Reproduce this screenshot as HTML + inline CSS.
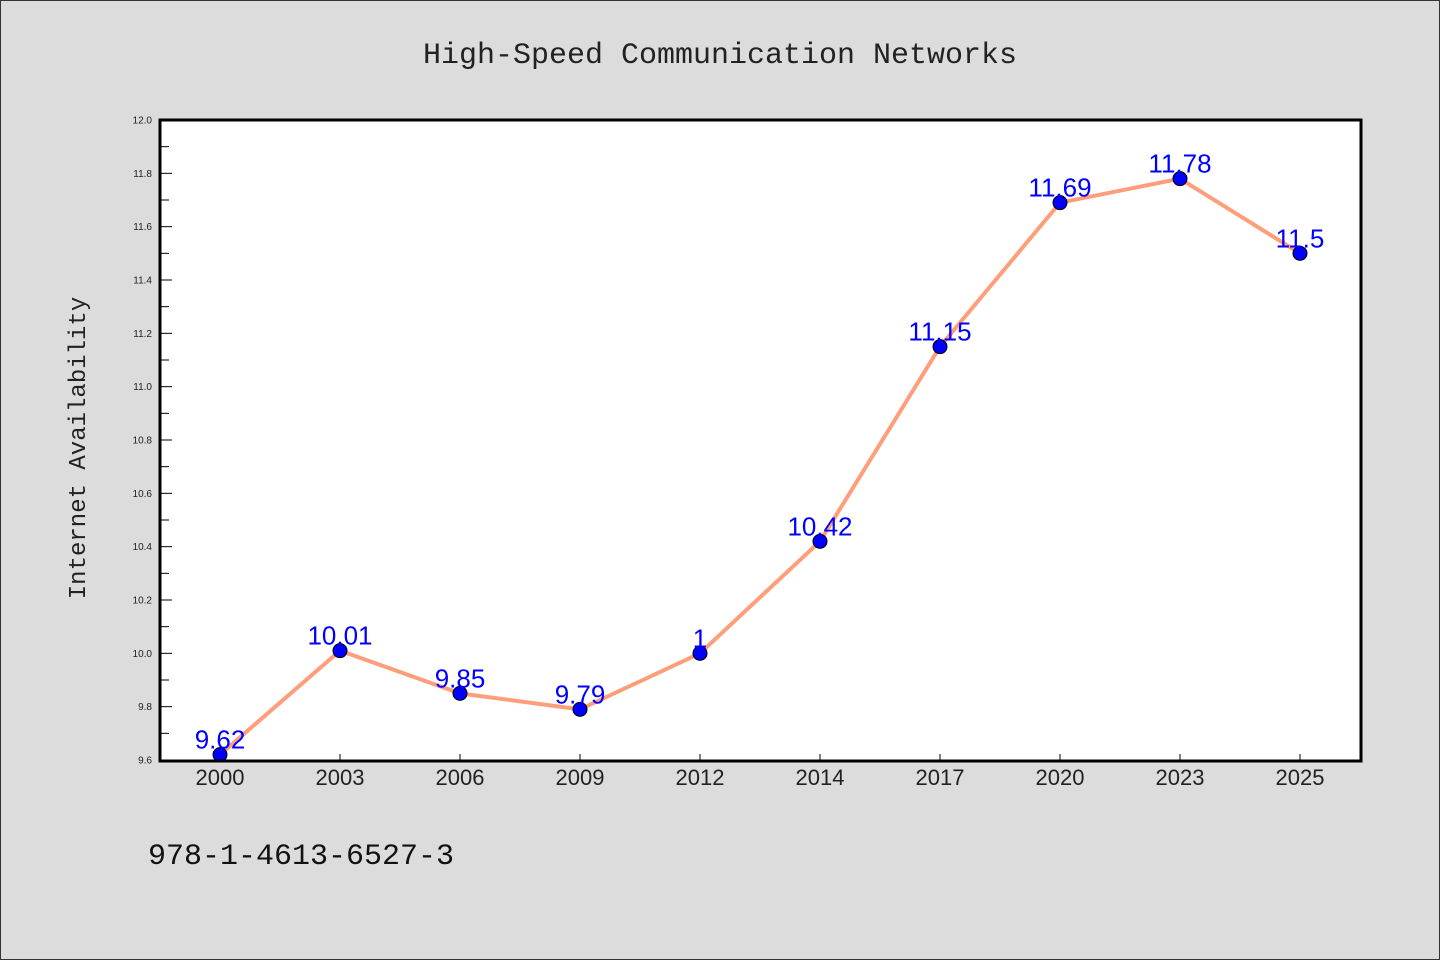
<!DOCTYPE html>
<html><head><meta charset="utf-8"><style>
body{margin:0;background:#dcdcdc}
svg{display:block}
</style></head><body>
<svg id="chart" width="1440" height="960" xmlns="http://www.w3.org/2000/svg">
<rect x="0.5" y="0.5" width="1439" height="959" fill="#dcdcdc" stroke="#333"/>
<text x="720" y="63" text-anchor="middle" font-family="Liberation Mono, monospace" font-size="30" fill="#222">High-Speed Communication Networks</text>
<rect x="160" y="120" width="1201" height="641" fill="#fff"/>
<g id="yaxis"></g><g id="xaxis"></g><g id="series"></g>
<rect x="160" y="120" width="1201" height="641" fill="none" stroke="#000" stroke-width="3"/>
<text transform="translate(85,448) rotate(-90)" text-anchor="middle" font-family="Liberation Mono, monospace" font-size="24" fill="#222">Internet Availability</text>
<text x="148" y="864" font-family="Liberation Mono, monospace" font-size="30" fill="#111">978-1-4613-6527-3</text>
</svg>
<script>
const categories=["2000","2003","2006","2009","2012","2014","2017","2020","2023","2025"];
const values=[9.62,10.01,9.85,9.79,10.0,10.42,11.15,11.69,11.78,11.5];
const valueLabels=["9.62","10.01","9.85","9.79","1","10.42","11.15","11.69","11.78","11.5"];
const yTicks=["9.6","9.8","10.0","10.2","10.4","10.6","10.8","11.0","11.2","11.4","11.6","11.8","12.0"];
const NS="http://www.w3.org/2000/svg";
const yMin=9.6,yMax=12.0,yTop=120,yBot=760;
const y=v=>yBot-(v-yMin)/(yMax-yMin)*(yBot-yTop);
const x=i=>220+i*120;
function mk(tag,attrs,parent){const e=document.createElementNS(NS,tag);for(const k in attrs)e.setAttribute(k,attrs[k]);parent.appendChild(e);return e;}
const ya=document.getElementById('yaxis'),xa=document.getElementById('xaxis'),se=document.getElementById('series');
yTicks.forEach((t,i)=>{
  const v=parseFloat(t);
  const l=mk('line',{x1:160,x2:172,y1:y(v),y2:y(v),stroke:'#000','stroke-width':1},ya);
  
  
  const tx=mk('text',{x:152,y:y(v)+3.5,'text-anchor':'end','font-family':'Liberation Sans, sans-serif','font-size':10,fill:'#222'},ya);
  tx.textContent=t;
  
  
  if(i<yTicks.length-1){
    const m=mk('line',{x1:160,x2:169,y1:y(v+0.1),y2:y(v+0.1),stroke:'#000','stroke-width':1},ya);
    
    
  }
});
categories.forEach((c,i)=>{
  const l=mk('line',{x1:x(i),x2:x(i),y1:760,y2:754,stroke:'#000','stroke-width':1},xa);
  
  
  const t=mk('text',{x:x(i),y:785,'text-anchor':'middle','font-family':'Liberation Sans, sans-serif','font-size':22,fill:'#222'},xa);
  t.textContent=c;
  
  
});
const pl=mk('polyline',{points:values.map((v,i)=>x(i)+','+y(v)).join(' '),fill:'none',stroke:'#ff9e7a','stroke-width':4,'stroke-linejoin':'round'},se);


values.forEach((v,i)=>{
  const c=mk('circle',{cx:x(i),cy:y(v),r:7,fill:'#0000ff',stroke:'#000','stroke-width':1},se);
  
  
  const t=mk('text',{x:x(i),y:y(v)-6,'text-anchor':'middle','font-family':'Liberation Sans, sans-serif','font-size':26,fill:'#0000ff'},se);
  t.textContent=valueLabels[i];
  
  
});
</script>
</body></html>
